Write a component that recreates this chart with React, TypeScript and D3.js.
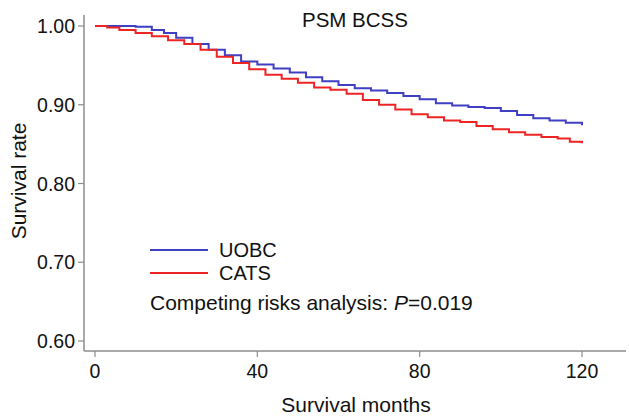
import React from 'react';
import * as d3 from 'd3';

// values (months, survival rate)
const uobcMonths = [0, 5, 10, 14, 17, 20, 24, 28, 32, 36, 40, 44, 48, 52, 56, 60, 64, 68, 72, 76, 80, 84, 88, 92, 96, 100, 104, 108, 112, 116, 120];
const uobcRate = [1.0, 1.0, 0.999, 0.995, 0.991, 0.985, 0.977, 0.97, 0.963, 0.955, 0.951, 0.946, 0.941, 0.935, 0.93, 0.925, 0.921, 0.918, 0.915, 0.911, 0.907, 0.902, 0.899, 0.897, 0.896, 0.892, 0.887, 0.883, 0.88, 0.877, 0.874];

const catsMonths = [0, 3, 6, 10, 14, 18, 22, 26, 30, 34, 38, 42, 46, 50, 54, 58, 62, 66, 70, 74, 78, 82, 86, 90, 94, 98, 102, 106, 110, 114, 117, 120];
const catsRate = [1.0, 0.998, 0.995, 0.991, 0.987, 0.982, 0.977, 0.97, 0.961, 0.953, 0.945, 0.938, 0.933, 0.928, 0.922, 0.919, 0.914, 0.906, 0.9, 0.894, 0.888, 0.884, 0.88, 0.878, 0.873, 0.869, 0.865, 0.862, 0.859, 0.857, 0.853, 0.851];

const xTicks = [0, 40, 80, 120];
const yTicks = [0.6, 0.7, 0.8, 0.9, 1.0];

const series = [
  { name: 'UOBC', color: '#3f3fc4', months: uobcMonths, rate: uobcRate },
  { name: 'CATS', color: '#ee2424', months: catsMonths, rate: catsRate },
];

const W = 629;
const H = 418;
const font = '"Liberation Sans", Arial, sans-serif';
const axisColor = '#8c8c8c';

export default function App() {
  const x = d3.scaleLinear().domain([0, 120]).range([95, 582]);
  const y = d3.scaleLinear().domain([0.6, 1.0]).range([341, 26]);

  const line = d3.line<[number, number]>()
    .x(d => x(d[0]))
    .y(d => y(d[1]))
    .curve(d3.curveStepAfter);

  return (
    <svg width={W} height={H} style={{ position: 'absolute', left: 0, top: 0, background: '#fff' }}
      fontFamily={font}>
      {/* axes */}
      <line x1={84} x2={84} y1={15} y2={351} stroke={axisColor} strokeWidth={1.5} />
      <line x1={84} x2={626} y1={351} y2={351} stroke={axisColor} strokeWidth={1.5} />
      {yTicks.map(t => (
        <g key={t}>
          <line x1={78} x2={84} y1={y(t)} y2={y(t)} stroke={axisColor} strokeWidth={1.2} />
          <text x={75} y={y(t)} dy="0.36em" textAnchor="end" fontSize={19.5} fill="#111">
            {d3.format('.2f')(t)}
          </text>
        </g>
      ))}
      {xTicks.map(t => (
        <g key={t}>
          <line x1={x(t)} x2={x(t)} y1={351} y2={357} stroke={axisColor} strokeWidth={1.2} />
          <text x={x(t)} y={378} textAnchor="middle" fontSize={19.5} fill="#111">{t}</text>
        </g>
      ))}
      <text x={356} y={412} textAnchor="middle" fontSize={21} fill="#111">Survival months</text>
      <text transform="translate(26,181) rotate(-90)" textAnchor="middle" fontSize={21} fill="#111">Survival rate</text>
      <text x={302} y={27} fontSize={20.5} fill="#111">PSM BCSS</text>

      {/* curves */}
      {series.map(s => (
        <path key={s.name}
          d={line(s.months.map((m, i) => [m, s.rate[i]] as [number, number])) || ''}
          fill="none" stroke={s.color} strokeWidth={2} />
      ))}

      {/* legend */}
      {series.map((s, i) => (
        <g key={s.name} transform={`translate(150,${250 + i * 23})`}>
          <line x1={0} x2={58} y1={0} y2={0} stroke={s.color} strokeWidth={2} />
          <text x={69} y={0} dy="0.36em" fontSize={20} fill="#111">{s.name}</text>
        </g>
      ))}
      <text x={150} y={310} fontSize={21} fill="#111">
        Competing risks analysis: <tspan fontStyle="italic">P</tspan>=0.019
      </text>
    </svg>
  );
}
